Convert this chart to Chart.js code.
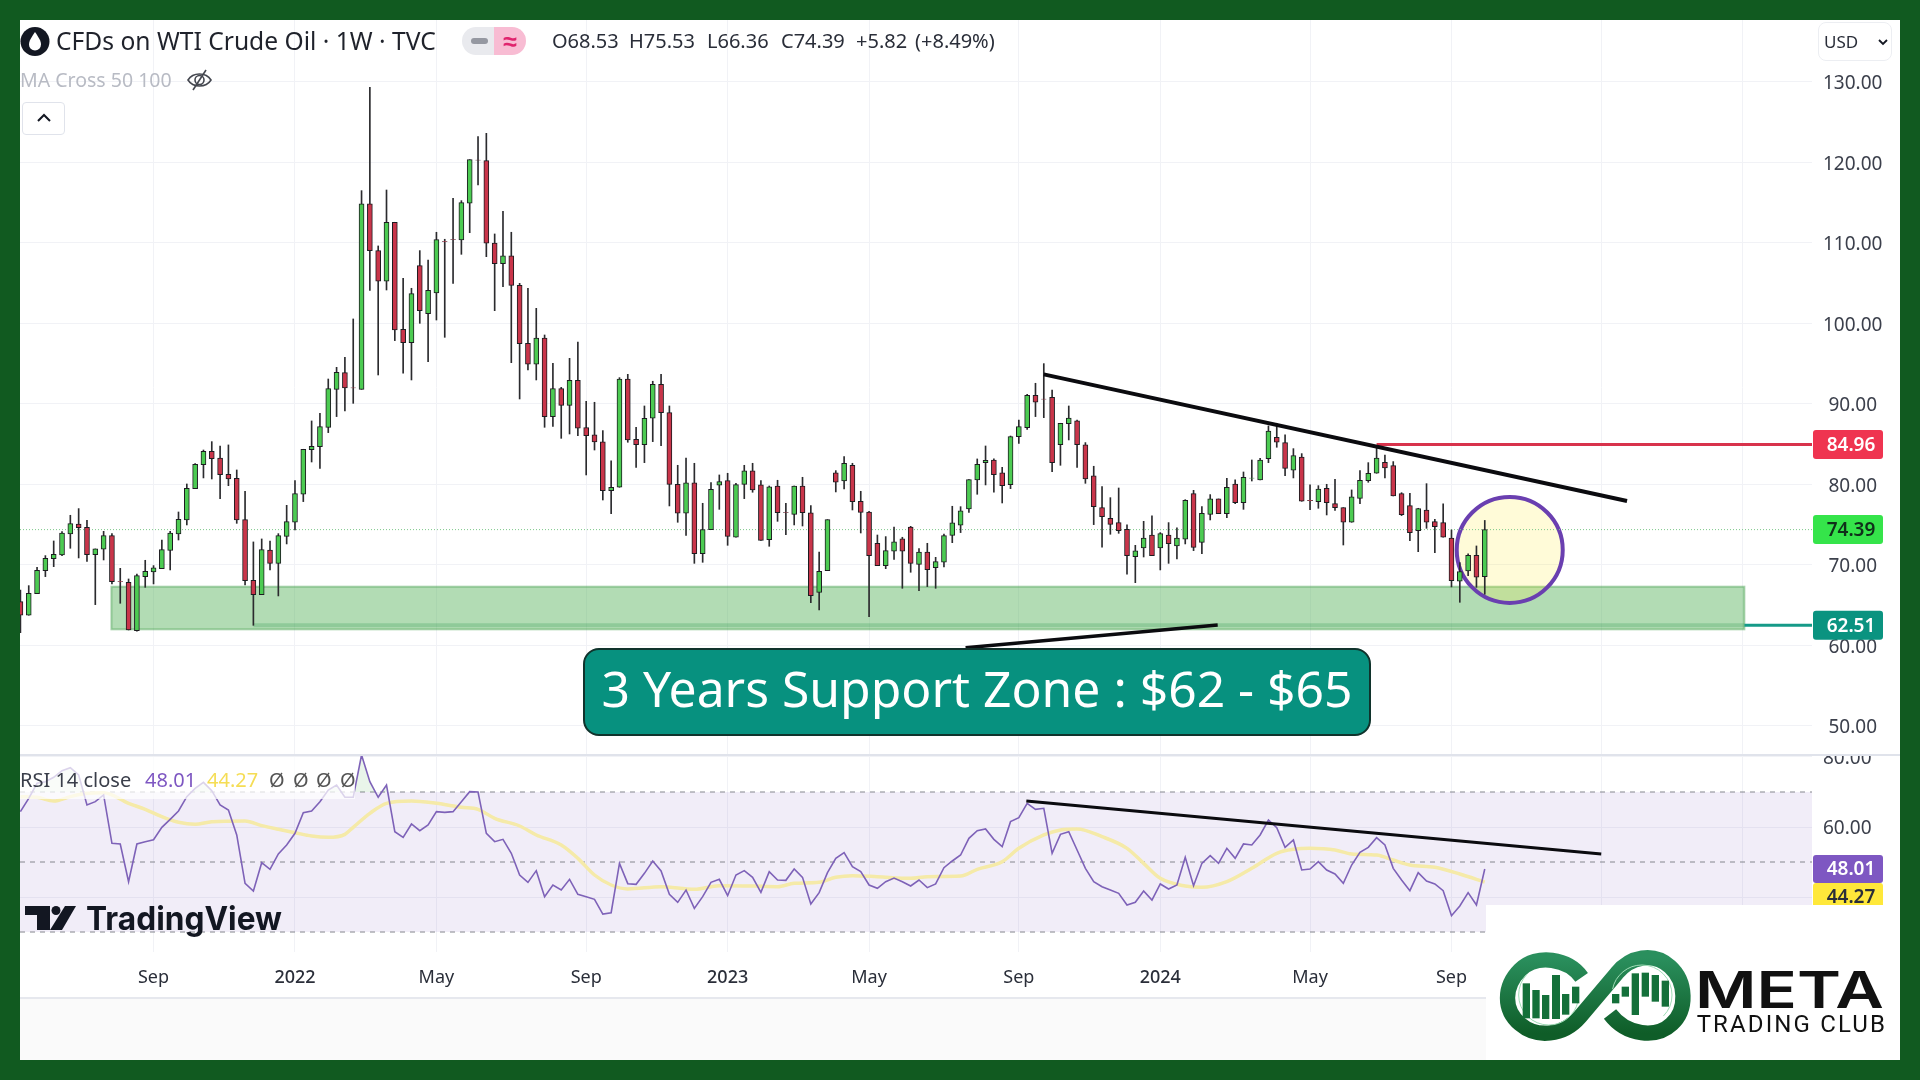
<!DOCTYPE html>
<html>
<head>
<meta charset="utf-8">
<title>CFDs on WTI Crude Oil</title>
<script src="https://cdn.jsdelivr.net/npm/chart.js@4/dist/chart.umd.js"></script>
<style>
html, body { margin: 0; padding: 0; }
body { width: 1920px; height: 1080px; background: #115a20; position: relative; overflow: hidden; font-family: "Noto Sans", sans-serif; }
#panel { position: absolute; left: 20px; top: 20px; width: 1880px; height: 1040px; background: #fff; }
#foot { position: absolute; left: 20px; top: 997px; width: 1880px; height: 63px; background: #fafafa; border-top: 2px solid #e6e8ee; box-sizing: border-box; }
canvas { position: absolute; left: 20px; }
#priceCanvas { top: 20px; }
#rsiCanvas { top: 755px; }
#divider { position: absolute; left: 20px; top: 754px; width: 1880px; height: 2px; background: #e0e3eb; }
.t { position: absolute; white-space: nowrap; line-height: 1; }
#title { left: 56px; top: 27px; font-size: 24.6px; line-height: 28px; color: #1f222b; }
.q { position: absolute; top: 30px; font-size: 20px; line-height: 22px; color: #2a2e39; white-space: nowrap; }
#ma { left: 20px; top: 69px; font-size: 19.5px; line-height: 22px; color: #b8bbc4; }
#usd { left: 1818px; top: 22px; width: 74px; height: 39px; border: 1px solid #eceef2; border-radius: 8px; box-sizing: border-box; font-size: 17px; line-height: 37px; padding-left: 5px; color: #2a2e39; }
#collapse { position: absolute; left: 22px; top: 102px; width: 43px; height: 33px; border: 1px solid #e0e3eb; border-radius: 4px; box-sizing: border-box; background: #fff; }
#pillL { position: absolute; left: 462px; top: 27px; width: 32px; height: 28px; background: #e9eaee; border-radius: 14px 0 0 14px; }
#pillR { position: absolute; left: 494px; top: 27px; width: 32px; height: 28px; background: #f8bcd3; border-radius: 0 14px 14px 0; color: #e0246e; font-size: 25px; font-weight: 700; line-height: 26px; text-align: center; }
#pillL i { position: absolute; left: 9px; top: 11px; width: 17px; height: 6px; border-radius: 3px; background: #9598a1; }
#rsiLegend { position: absolute; left: 20px; top: 757px; width: 335px; height: 42px; background: rgba(255,255,255,0.72); }
#rsiLegend span { position: absolute; top: 12px; font-size: 20px; line-height: 22px; white-space: nowrap; }
#callout { position: absolute; left: 583px; top: 648px; width: 788px; height: 88px; box-sizing: border-box; background: #07917f; border: 2px solid #10332c; border-radius: 16px; color: #fff; font-size: 49.8px; line-height: 76px; text-align: center; white-space: nowrap; }
#logoMask { position: absolute; left: 1486px; top: 905px; width: 414px; height: 155px; background: #fff; }
#tvLogo, #metaLogo, #eye, #chev, #usdChev { position: absolute; }
</style>
</head>
<body>
<div id="panel"></div>
<div id="foot"></div>
<canvas id="priceCanvas" width="1880" height="735"></canvas>
<canvas id="rsiCanvas" width="1880" height="242"></canvas>
<div id="divider"></div>

<svg style="position:absolute;left:20px;top:27px" width="30" height="29" viewBox="0 0 30 29">
  <circle cx="15" cy="14.5" r="14.5" fill="#131722"/>
  <path d="M15 5 C19 11 21 14 21 17.5 A6 6 0 0 1 9 17.5 C9 14 11 11 15 5 Z" fill="#fff"/>
</svg>
<div class="t" id="title">CFDs on WTI Crude Oil · 1W · TVC</div>
<div id="pillL"><i></i></div>
<div id="pillR">≈</div>
<span class="q" style="left:552px">O68.53</span>
<span class="q" style="left:629px">H75.53</span>
<span class="q" style="left:707px">L66.36</span>
<span class="q" style="left:781px">C74.39</span>
<span class="q" style="left:856px">+5.82</span>
<span class="q" style="left:915px">(+8.49%)</span>
<div class="t" id="ma">MA Cross 50 100</div>
<svg id="eye" style="left:186px;top:68px" width="27" height="24" viewBox="0 0 27 24" fill="none" stroke="#44474f" stroke-width="1.6">
  <path d="M2 12 C7 4 20 4 25 12 C20 20 7 20 2 12 Z"/><circle cx="13.5" cy="12" r="4.5"/><path d="M20 2 L7 22"/>
</svg>
<div id="collapse"></div>
<svg id="chev" style="left:36px;top:112px" width="16" height="12" viewBox="0 0 16 12" fill="none" stroke="#131722" stroke-width="2"><path d="M2 9 L8 3 L14 9"/></svg>
<div class="t" id="usd">USD</div>
<svg id="usdChev" style="left:1877px;top:38px" width="12" height="8" viewBox="0 0 12 8" fill="none" stroke="#131722" stroke-width="1.8"><path d="M2 2 L6 6 L10 2"/></svg>

<div id="rsiLegend">
  <span style="left:0;color:#3a3e4a">RSI 14 close</span>
  <span style="left:125px;color:#7e57c2">48.01</span>
  <span style="left:187px;color:#f5dd55">44.27</span>
  <span style="left:249px;color:#555">Ø</span>
  <span style="left:273px;color:#555">Ø</span>
  <span style="left:296px;color:#555">Ø</span>
  <span style="left:320px;color:#555">Ø</span>
</div>

<svg id="tvLogo" style="left:25px;top:902px" width="262" height="40" viewBox="0 0 262 40">
  <path d="M0 4 H25 V28 H12 V13 H0 Z" fill="#131722"/>
  <circle cx="31" cy="8.500" r="4.500" fill="#131722"/>
  <path d="M40 4 H51 L37 28 H25 Z" fill="#131722"/>
  <text x="61" y="28" font-family="Inter" font-weight="700" font-size="33" fill="#131722" textLength="196" lengthAdjust="spacingAndGlyphs">TradingView</text>
</svg>

<div id="callout">3 Years Support Zone : $62 - $65</div>
<div id="logoMask"></div>

<svg id="metaLogo" style="left:1440px;top:740px" width="480" height="340" viewBox="0 0 1440 1020">
  <defs>
    <linearGradient id="g" x1="0" y1="0" x2="0" y2="1"><stop offset="0" stop-color="#2a8f5d"/><stop offset="1" stop-color="#0f5d28"/></linearGradient>
  </defs>
  <path d="M425 712 C385 655 290 640 240 690 C190 740 190 810 240 852 C290 895 370 888 420 830 L530 700 C570 650 640 635 690 680 C740 725 742 810 695 852 C650 895 560 888 510 822" fill="none" stroke="url(#g)" stroke-width="46"/>
  <circle cx="326" cy="765" r="90" fill="none" stroke="#9fdcb6" stroke-width="3" stroke-dasharray="330 230" stroke-dashoffset="-20"/>
  <circle cx="606" cy="765" r="90" fill="none" stroke="#9fdcb6" stroke-width="3" stroke-dasharray="330 230" stroke-dashoffset="260"/>
  <g fill="#14703a">
    <rect x="248" y="730" width="22" height="105"/><rect x="277" y="750" width="22" height="85"/><rect x="306" y="765" width="22" height="72"/><rect x="336" y="705" width="24" height="132"/><rect x="366" y="762" width="22" height="62"/><rect x="396" y="740" width="22" height="50"/>
    <rect x="516" y="762" width="22" height="28"/><rect x="545" y="740" width="22" height="30"/><rect x="575" y="700" width="22" height="125"/><rect x="605" y="698" width="22" height="72"/><rect x="635" y="705" width="22" height="80"/><rect x="665" y="722" width="22" height="78"/>
  </g>
  <text x="765" y="805" font-family="Inter" font-weight="600" font-size="152" fill="#111" textLength="566" lengthAdjust="spacingAndGlyphs">META</text>
  <text x="770" y="876" font-family="Roboto" font-weight="400" font-size="72" fill="#111" textLength="565" lengthAdjust="spacing">TRADING CLUB</text>
</svg>

<script>
// weekly candles
const opens = [65.44,63.75,66.44,69.29,70.79,71.24,73.85,75.09,74.68,71.28,
71.95,73.64,67.97,67.84,61.84,68.55,69.13,69.54,71.82,73.85,
75.59,79.48,82.46,84.12,83.29,81.26,80.77,75.63,68.09,66.31,
71.86,70.2,73.56,75.3,78.78,84.33,84.7,87.1,91.82,93.89,
92.0,91.82,114.85,109.05,105.24,112.57,99.27,97.62,107.18,101.22,
103.79,110.2,110.41,110.37,114.93,120.31,120.23,110.0,107.43,108.39,
104.74,97.54,94.93,98.2,88.43,91.9,89.83,92.94,87.06,86.15,
85.28,79.23,79.65,93.1,85.61,84.95,88.22,92.44,88.92,80.02,
76.42,80.19,71.41,74.39,79.9,80.47,73.44,80.02,81.68,79.94,
73.15,79.81,76.5,76.29,79.81,76.46,66.6,69.29,81.43,80.43,
82.38,77.91,76.58,72.69,69.92,71.7,73.23,74.72,70.08,71.61,
69.67,70.33,73.68,74.93,76.96,80.56,82.71,83.04,81.43,79.98,
85.94,87.06,91.08,90.62,90.83,84.95,87.56,87.89,84.91,81.06,
77.12,75.8,75.26,74.43,71.03,72.11,73.72,72.11,73.72,72.36,
73.19,78.86,72.81,76.29,78.2,76.38,80.06,77.74,80.77,80.56,
83.21,85.86,85.2,81.76,83.41,78.03,77.87,79.52,77.62,77.12,
75.3,78.28,80.47,81.39,82.75,82.34,78.86,77.37,74.26,76.83,
75.38,75.26,73.35,67.97,69.25,71.2,68.53];
const closes = [63.75,66.48,69.33,70.83,71.32,73.97,75.13,74.64,71.28,71.99,
73.64,67.93,67.95,61.92,68.67,69.21,69.63,71.9,73.97,75.67,
79.52,82.5,84.12,83.21,81.22,80.68,75.59,68.05,66.31,71.9,
70.2,73.64,75.38,78.86,84.37,84.74,87.18,91.9,93.93,91.99,
91.98,114.85,109.05,105.24,112.57,99.19,97.62,103.71,101.59,104.12,
110.41,110.18,110.4,115.01,120.35,120.3,109.96,107.43,108.39,104.74,
97.49,94.93,98.2,88.43,91.9,89.83,92.94,86.98,86.07,85.28,
79.23,79.65,93.1,85.53,84.95,88.22,92.44,88.92,80.02,76.42,
80.19,71.41,74.39,79.4,80.35,73.56,79.98,81.68,79.31,73.06,
79.69,76.5,76.48,79.81,76.5,66.19,69.21,75.63,80.27,82.63,
77.87,76.54,71.16,69.92,71.78,72.86,71.7,70.2,71.61,69.42,
70.41,73.64,75.22,76.71,80.6,82.5,83.0,81.22,79.85,85.94,
87.18,91.08,90.21,90.6,82.71,87.6,88.26,84.95,80.68,77.24,
76.0,75.05,74.26,71.16,71.74,73.35,71.16,73.89,72.65,73.35,
78.03,72.19,76.42,78.2,76.38,79.65,77.74,80.89,80.8,83.04,
86.64,85.24,82.0,83.58,77.91,78.0,79.44,77.74,77.12,75.3,
78.45,80.52,81.39,83.29,82.05,78.57,76.25,74.02,77.0,75.3,
74.76,73.44,68.05,69.17,71.2,68.47,74.39];
const highs = [66.89,67.43,69.71,71.16,72.98,74.14,76.17,77.0,75.55,71.99,
74.18,73.89,69.58,68.26,68.88,70.58,69.92,73.1,74.18,76.58,
80.06,82.59,84.28,85.32,84.78,84.91,81.8,79.15,72.86,73.23,
72.98,73.89,77.41,80.47,84.37,87.89,88.84,93.1,94.55,95.8,
100.56,116.5,129.34,109.63,116.58,112.57,105.61,104.37,109.05,107.89,
111.33,110.46,115.55,115.26,120.35,123.21,123.62,111.12,113.93,111.33,
104.99,104.37,101.88,98.57,95.05,92.07,95.67,97.7,90.33,90.21,
86.69,82.92,93.27,93.68,87.1,89.75,92.82,93.68,89.75,82.38,
83.29,82.63,77.66,80.23,81.18,81.39,80.14,82.38,82.63,80.47,
79.81,80.52,77.66,79.81,80.89,77.37,71.61,75.63,81.72,83.46,
82.63,79.15,76.67,73.72,73.52,74.72,73.44,74.8,72.03,72.69,
70.95,73.85,77.29,77.24,80.6,83.17,84.78,83.17,82.13,86.02,
88.01,91.2,92.57,95.01,91.74,87.6,89.75,88.01,85.2,82.26,
79.73,78.36,79.56,74.97,72.44,75.42,76.09,74.02,75.26,74.6,
78.11,79.27,77.24,78.74,78.2,80.77,80.56,81.55,83.04,83.25,
87.27,87.6,86.15,84.45,83.83,79.94,79.85,80.02,80.64,77.12,
79.32,81.72,82.71,84.7,83.66,82.84,78.98,78.9,77.04,80.1,
75.67,77.58,74.35,70.29,71.37,72.36,75.53];
const lows = [61.59,63.75,66.44,68.55,69.79,71.16,72.07,70.87,70.45,65.07,
70.62,67.64,65.24,61.92,61.76,67.22,67.64,69.54,69.38,73.1,
74.97,79.48,80.81,80.68,78.24,79.85,75.17,67.51,62.5,66.31,
69.38,66.15,72.61,74.35,77.87,82.79,82.0,86.44,88.43,89.13,
90.08,91.82,104.12,93.6,104.16,97.87,93.81,92.98,100.02,95.26,
100.43,98.28,104.99,108.59,111.28,117.2,108.3,101.59,104.58,95.13,
90.62,94.22,92.98,87.1,87.22,85.73,86.27,86.07,81.18,84.28,
78.07,76.38,79.65,85.24,82.13,82.71,85.32,84.82,77.33,75.3,
73.68,70.2,70.33,74.39,76.91,72.44,73.44,78.24,79.03,73.06,
72.32,75.42,73.77,74.97,74.84,65.32,64.41,69.29,79.07,79.44,
76.83,73.97,63.58,69.92,69.54,70.7,67.1,69.09,66.81,67.31,
67.1,69.75,72.77,74.02,76.54,78.78,79.94,79.03,77.7,79.48,
85.11,86.85,88.43,88.3,81.59,82.38,85.53,82.13,80.14,75.01,
72.2,73.81,73.93,68.84,67.8,70.99,71.16,69.38,70.2,70.74,
72.61,71.78,71.41,75.59,76.38,75.88,77.62,76.91,80.43,80.56,
82.71,84.62,81.1,80.81,77.91,76.87,77.04,76.21,76.79,72.48,
75.3,77.62,80.27,81.39,80.81,78.57,76.13,73.02,71.65,74.55,
71.53,73.44,67.27,65.36,68.67,67.22,66.36];

// RSI 14, one value per week
const rsiValues = [64.38,68.19,72.48,72.95,74.19,76.1,76.96,74.86,66.29,67.24,
69.15,55.34,55.15,44.38,55.15,55.81,56.38,59.91,62.19,64.57,
68.67,71.05,72.76,70.38,66.29,64.86,57.72,43.91,41.72,49.81,
47.91,52.29,54.86,58.19,64.1,64.57,67.24,70.57,72.0,68.48,
68.48,80.57,72.95,68.48,72.0,58.67,57.05,60.86,58.95,60.57,
64.38,64.19,64.38,67.24,70.1,70.0,58.19,55.81,56.48,52.48,
46.29,44.19,47.53,40.1,43.43,42.0,45.05,40.76,40.1,39.34,
35.14,35.52,49.62,43.81,43.62,46.76,50.29,47.43,40.76,38.48,
42.0,36.76,40.1,44.19,45.05,40.38,46.29,47.53,45.62,41.34,
47.24,44.86,44.76,48.0,45.62,38.0,41.24,46.95,51.05,52.67,
48.67,47.24,43.43,42.48,44.38,45.43,44.38,43.14,44.86,42.67,
43.72,48.38,50.29,52.0,56.76,58.95,59.43,56.48,54.38,61.53,
62.67,66.76,65.05,65.34,52.48,57.91,58.67,53.43,48.19,44.38,
42.95,42.0,41.05,37.72,38.48,41.72,39.14,43.72,42.29,43.43,
51.34,43.24,49.62,51.81,49.62,53.91,51.05,55.15,54.86,57.72,
62.0,59.81,54.19,56.29,47.72,48.0,50.1,47.72,46.57,43.91,
49.14,52.76,54.19,56.95,54.86,48.19,44.86,41.81,46.95,44.57,
43.72,41.81,34.67,37.43,41.24,37.72,48.01];

// RSI moving average, read at these weeks
const rsiMaWeeks = [0,2,4,6,8,10,13,15,17,19,21,23,27,29,31,33,35,37,39,40,42,44,47,50,53,55,57,60,62,65,67,69,71,73,77,81,84,88,91,93,96,98,100,103,107,109,113,115,118,120,123,125,127,130,133,135,137,140,142,145,148,151,153,155,158,160,163,165,167,170,173,176];
const rsiMaValues = [68.67,68.48,67.43,68.67,69.62,69.81,66.76,65.05,62.95,61.34,60.76,61.53,61.72,60.38,59.34,58.38,57.43,57.05,57.91,59.91,63.91,66.76,67.43,66.76,65.62,65.05,62.48,60.29,57.72,54.86,51.05,46.29,43.43,42.29,42.95,42.19,43.24,43.14,42.95,43.91,44.19,45.62,46.1,45.81,45.33,45.81,46.0,47.91,50.1,53.91,57.72,59.15,59.43,57.24,53.91,49.62,45.33,43.14,42.76,44.38,48.19,52.48,53.62,53.91,53.43,52.29,52.0,50.57,49.14,48.48,46.57,44.27];

// axes
const priceTicks = [50,60,70,80,90,100,110,120,130];
const rsiTicks = [40,60,80];
const rsiLevels = [70,50,30];
const timeWeeks = [16,33,50,68,85,102,120,137,155,172,190,207];
const timeLabels = ["Sep","2022","May","Sep","2023","May","Sep","2024","May","Sep","",""];

// drawings on the chart
const resistanceWeeks = [123,193.1];
const resistanceValues = [93.68,77.95];
const rsiTrendWeeks = [120.9,190];
const rsiTrendValues = [67.43,52.29];
const pointerWeeks = [113.6,143.9];
const pointerValues = [59.7,62.55];
const lastClose = 74.39;
const redLevel = 84.96;
const tealLevel = 62.51;
const zoneWeeks = [10.94,207.2];
const zoneValues = [62.0,67.3];
const circleWeek = 179;
const circleValue = 71.86;
const rsiLast = 48.01;
const rsiMaLast = 44.27;

const xMin = -0.05, xMax = 215.33;
const weeks = opens.map((_, i) => i);
const fontName = '"Noto Sans", sans-serif';
const upColor = '#4ccb52', downColor = '#c9354a';

function zeroPad(scale) {
    scale.paddingTop = 0; scale.paddingBottom = 0; scale.paddingLeft = 0; scale.paddingRight = 0;
}

function xScale(height, showLabels) {
    return {
        type: 'linear', min: xMin, max: xMax, offset: false,
        grid: { color: '#f1f2f6', offset: false, drawTicks: false },
        border: { display: false },
        afterBuildTicks: s => { s.ticks = timeWeeks.map(v => ({ value: v })); },
        afterFit: s => { s.height = height; zeroPad(s); },
        ticks: {
            display: showLabels, autoSkip: false, maxRotation: 0, padding: 15, color: '#2a2e39',
            font: ctx => ({ family: fontName, size: 18, weight: ctx.tick && /^\d/.test(ctx.tick.label) ? '500' : '400' }),
            callback: (v, i) => timeLabels[i]
        }
    };
}

function yScale(lo, hi, list) {
    return {
        position: 'right', min: lo, max: hi,
        grid: { color: '#f1f2f6', drawTicks: false },
        border: { display: false },
        afterBuildTicks: s => { s.ticks = list.map(v => ({ value: v })); },
        afterFit: s => { s.width = 88; zeroPad(s); },
        ticks: {
            crossAlign: 'center', padding: 11, labelOffset: 2, color: '#3c404c',
            font: { family: fontName, size: 19 },
            callback: v => v.toFixed(2)
        }
    };
}

function tag(ctx, area, yMid, h, bg, fg, text) {
    ctx.save();
    ctx.fillStyle = bg;
    ctx.beginPath();
    ctx.roundRect(area.right + 1, yMid - h / 2, 70, h, 3);
    ctx.fill();
    ctx.fillStyle = fg;
    ctx.font = '600 19px ' + fontName;
    ctx.textAlign = 'center';
    ctx.textBaseline = 'middle';
    ctx.fillText(text, area.right + 39, yMid + 1);
    ctx.restore();
}

const zonePlugin = {
    id: 'zone',
    beforeDatasetsDraw(chart) {
        const { ctx, scales: { x, y } } = chart;
        const left = x.getPixelForValue(zoneWeeks[0]), right = x.getPixelForValue(zoneWeeks[1]);
        const top = y.getPixelForValue(zoneValues[1]), bottom = y.getPixelForValue(zoneValues[0]);
        ctx.save();
        ctx.fillStyle = 'rgba(76,175,80,0.43)';
        ctx.fillRect(left, top, right - left, bottom - top);
        ctx.strokeStyle = 'rgba(70,160,80,0.45)';
        ctx.lineWidth = 2;
        ctx.strokeRect(left, top, right - left, bottom - top);
        ctx.beginPath();
        ctx.arc(x.getPixelForValue(circleWeek), y.getPixelForValue(circleValue), 53, 0, Math.PI * 2);
        ctx.fillStyle = 'rgba(255,235,59,0.2)';
        ctx.fill();
        ctx.strokeStyle = '#6a3fb0';
        ctx.lineWidth = 4;
        ctx.stroke();
        ctx.restore();
    },
    afterDraw(chart) {
        const { ctx, chartArea, scales: { y } } = chart;
        tag(ctx, chartArea, y.getPixelForValue(redLevel), 29, '#ef3450', '#fff', redLevel.toFixed(2));
        tag(ctx, chartArea, y.getPixelForValue(lastClose), 29, '#35e44a', '#10301a', lastClose.toFixed(2));
        tag(ctx, chartArea, y.getPixelForValue(tealLevel), 29, '#0a9380', '#fff', tealLevel.toFixed(2));
    }
};

function hLine(level, from, to, color, width, dash, order) {
    return {
        type: 'line', data: [{ x: from, y: level }, { x: to, y: level }],
        borderColor: color, borderWidth: width, borderDash: dash, pointRadius: 0, order: order
    };
}

function segment(wk, val, width, order) {
    return {
        type: 'line', data: wk.map((w, i) => ({ x: w, y: val[i] })),
        borderColor: '#0b0b0f', borderWidth: width, pointRadius: 0, order: order
    };
}

new Chart(document.getElementById('priceCanvas'), {
    type: 'bar',
    data: {
        datasets: [
            {
                data: weeks.map(i => ({ x: i, y: [lows[i], highs[i]] })),
                barThickness: 1, grouped: false, backgroundColor: '#2b2b2e', order: 5
            },
            {
                data: weeks.map(i => ({ x: i, y: [opens[i], closes[i]] })),
                barThickness: 5, grouped: false, borderSkipped: false, borderWidth: 1, borderColor: '#1c1c20',
                backgroundColor: weeks.map(i => closes[i] >= opens[i] ? upColor : downColor), order: 4
            },
            hLine(lastClose, xMin, xMax, '#7cc88a', 1, [1, 2], 6),
            hLine(redLevel, 163, xMax, '#d8334c', 3, [], 3),
            hLine(tealLevel, 28, zoneWeeks[1], 'rgba(60,160,90,0.3)', 4, [], 6),
            hLine(tealLevel, zoneWeeks[1], xMax, '#159a88', 3, [], 6),
            segment(resistanceWeeks, resistanceValues, 4, 1),
            segment(pointerWeeks, pointerValues, 3.5, 1)
        ]
    },
    options: {
        responsive: false, animation: false, devicePixelRatio: 1,
        layout: { padding: 0 },
        plugins: { legend: { display: false }, tooltip: { enabled: false } },
        scales: { x: xScale(0, false), y: yScale(46.39, 137.7, priceTicks) }
    },
    plugins: [zonePlugin]
});

const bandPlugin = {
    id: 'band',
    beforeDatasetsDraw(chart) {
        const { ctx, chartArea, scales: { y } } = chart;
        const top = y.getPixelForValue(rsiLevels[0]), bottom = y.getPixelForValue(rsiLevels[2]);
        ctx.save();
        ctx.fillStyle = 'rgba(126,87,194,0.11)';
        ctx.fillRect(chartArea.left, top, chartArea.right - chartArea.left, bottom - top);
        ctx.restore();
    },
    afterDraw(chart) {
        const { ctx, chartArea, scales: { y } } = chart;
        const mid = y.getPixelForValue(rsiLast);
        tag(ctx, chartArea, mid, 28, '#7e57c2', '#fff', rsiLast.toFixed(2));
        tag(ctx, chartArea, mid + 28, 28, '#ffe83a', '#2a2e39', rsiMaLast.toFixed(2));
    }
};

new Chart(document.getElementById('rsiCanvas'), {
    type: 'line',
    data: {
        datasets: [
            ...rsiLevels.map(v => hLine(v, xMin, xMax, '#85878f', 1, [5, 5], 6)),
            {
                data: rsiMaWeeks.map((w, i) => ({ x: w, y: rsiMaValues[i] })),
                borderColor: '#f5eaa8', borderWidth: 3.5, pointRadius: 0, cubicInterpolationMode: 'monotone', order: 3
            },
            {
                data: weeks.map(i => ({ x: i, y: rsiValues[i] })),
                borderColor: '#7e62b8', borderWidth: 1.6, pointRadius: 0, order: 2,
                fill: { target: { value: rsiLevels[0] }, above: 'rgba(76,175,80,0.12)', below: 'rgba(0,0,0,0)' }
            },
            segment(rsiTrendWeeks, rsiTrendValues, 3, 1)
        ]
    },
    options: {
        responsive: false, animation: false, devicePixelRatio: 1,
        layout: { padding: 0 },
        plugins: { legend: { display: false }, tooltip: { enabled: false } },
        scales: { x: xScale(45, true), y: yScale(24.29, 80.57, rsiTicks) }
    },
    plugins: [bandPlugin]
});
</script>
</body>
</html>
